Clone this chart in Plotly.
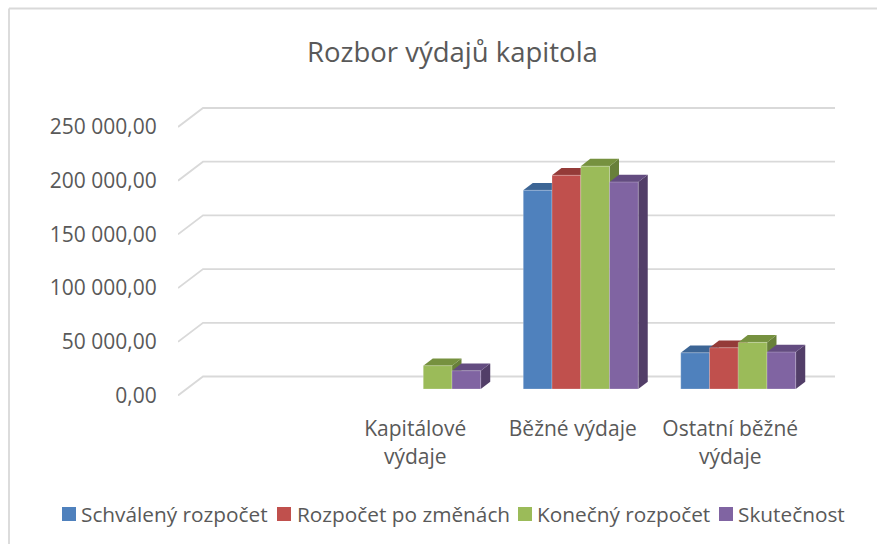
import plotly.graph_objects as go

# ---- data ----
categories = ["", "Kapitálové<br>výdaje", "Běžné výdaje", "Ostatní běžné<br>výdaje"]
schvaleny = [None, None, 185000, 33700]
po_zmenach = [None, None, 199000, 38400]
konecny = [None, 21700, 207500, 43400]
skutecnost = [None, 17000, 192700, 34400]
series_names = ["Schválený rozpočet", "Rozpočet po změnách", "Konečný rozpočet", "Skutečnost"]
grid_values = [0, 50000, 100000, 150000, 200000, 250000]
grid_labels = ["0,00", "50 000,00", "100 000,00", "150 000,00", "200 000,00", "250 000,00"]

front_colors = ["#4f81bd", "#c0504d", "#9bbb59", "#8064a2"]
top_colors = ["#3c6595", "#943b38", "#76913f", "#634c80"]
side_colors = ["#35587f", "#803230", "#68803a", "#523e68"]
series = [schvaleny, po_zmenach, konecny, skutecnost]

W, H = 877, 544
# pixel frame of the axes and scale factors
L, R, T, B = 178, 835, 106, 396
CAT_PX = 157.5
X0_PX = 187
BASE_PX = 389
K = 250000 / 268.5  # value units per pixel
BARGAP = 0.27
BAR_W = (1 - BARGAP) / 4
DX = 9.5 / CAT_PX
DY = 7.3 * K
FONT = "Open Sans"
TXT = "#595959"
GRID = "#d9d9d9"
LEGEND_SWATCH_PX = [62, 277, 518, 719]
LEGEND_TEXT_PX = [81, 297, 537, 738]


def xu(px):
    return (px - X0_PX) / CAT_PX - 0.5


def yv(py):
    return (BASE_PX - py) * K


xr = [xu(L), xu(R)]
yr = [yv(B), yv(T)]
dom_x = [L / W, R / W]
dom_y = [1 - B / H, 1 - T / H]

fig = go.Figure()

# 3-D style gridlines: front stub, then along the back wall
gx, gy = [], []
for v in grid_values:
    gx += [xu(L), xu(203), xu(835), None]
    gy += [v - 6.5 * K, v + 12.5 * K, v + 12.5 * K, None]
fig.add_trace(go.Scatter(x=gx, y=gy, mode="lines", line=dict(color=GRID, width=1.8),
                         hoverinfo="skip", showlegend=False))

# depth faces (painted left to right, below the front faces)
for c in range(len(categories)):
    for s, vals in enumerate(series):
        v = vals[c]
        if v is None:
            continue
        x0 = c - (1 - BARGAP) / 2 + s * BAR_W
        x1 = x0 + BAR_W
        fig.add_trace(go.Scatter(
            x=[x1, x1 + DX, x1 + DX, x1, x1], y=[0, DY, v + DY, v, 0],
            mode="lines", line=dict(width=0), fill="toself", fillcolor=side_colors[s],
            hoverinfo="skip", showlegend=False))
        fig.add_trace(go.Scatter(
            x=[x0, x0 + DX, x1 + DX, x1, x0], y=[v, v + DY, v + DY, v, v],
            mode="lines", line=dict(width=0), fill="toself", fillcolor=top_colors[s],
            hoverinfo="skip", showlegend=False))

# front faces
for s, vals in enumerate(series):
    fig.add_trace(go.Bar(x=list(range(len(categories))), y=vals, name=series_names[s],
                         marker=dict(color=front_colors[s],
                                     line=dict(color="rgba(255,255,255,0.3)", width=0.8)),
                         xaxis="x2", yaxis="y2", showlegend=False))

shapes = [
    dict(type="line", xref="paper", yref="paper", x0=9 / W, x1=9 / W, y0=0, y1=1 - 8.5 / H,
         line=dict(color=GRID, width=1.8)),
    dict(type="line", xref="paper", yref="paper", x0=9 / W, x1=1, y0=1 - 8.5 / H, y1=1 - 8.5 / H,
         line=dict(color=GRID, width=1.8)),
]
annotations = []
# compact legend: swatch + label, spaced as in the reference
for s, name in enumerate(series_names):
    sx = LEGEND_SWATCH_PX[s]
    shapes.append(dict(type="rect", xref="paper", yref="paper",
                       x0=sx / W, x1=(sx + 14) / W, y0=1 - 521 / H, y1=1 - 507 / H,
                       fillcolor=front_colors[s], line=dict(width=0)))
    annotations.append(dict(text=name, xref="paper", yref="paper", showarrow=False,
                            x=LEGEND_TEXT_PX[s] / W, xanchor="left",
                            y=1 - 514 / H, yanchor="middle",
                            font=dict(size=20.8, family=FONT, color=TXT), borderpad=0, borderwidth=0))

fig.update_layout(
    width=W, height=H, autosize=False,
    margin=dict(l=0, r=0, t=0, b=0),
    paper_bgcolor="white", plot_bgcolor="rgba(0,0,0,0)",
    font=dict(family=FONT, color=TXT, size=21),
    barmode="group", bargap=BARGAP, bargroupgap=0, showlegend=False,
    title=dict(text="Rozbor výdajů kapitola", x=452.5 / W, xanchor="center",
               y=1 - 52 / H, yanchor="middle", font=dict(size=27.5, family=FONT, color=TXT)),
    xaxis=dict(domain=dom_x, range=xr, showgrid=False, zeroline=False, showline=False, automargin=False,
               tickmode="array", tickvals=[c - 8 / CAT_PX for c in range(len(categories))],
               ticktext=categories, ticks="outside", ticklen=14,
               tickcolor="rgba(0,0,0,0)", tickangle=0, tickfont=dict(size=21)),
    yaxis=dict(domain=dom_y, range=yr, showgrid=False, zeroline=False, showline=False, automargin=False,
               tickmode="array", tickvals=[v - 6.5 * K for v in grid_values],
               ticktext=grid_labels, ticks="outside", ticklen=16,
               tickcolor="rgba(0,0,0,0)", tickfont=dict(size=21)),
    xaxis2=dict(overlaying="x", range=xr, visible=False, automargin=False),
    yaxis2=dict(overlaying="y", range=yr, visible=False, automargin=False),
    shapes=shapes, annotations=annotations,
)

fig.write_html("out.html", config={"displayModeBar": False},
               post_script="document.body.style.margin='0';")
